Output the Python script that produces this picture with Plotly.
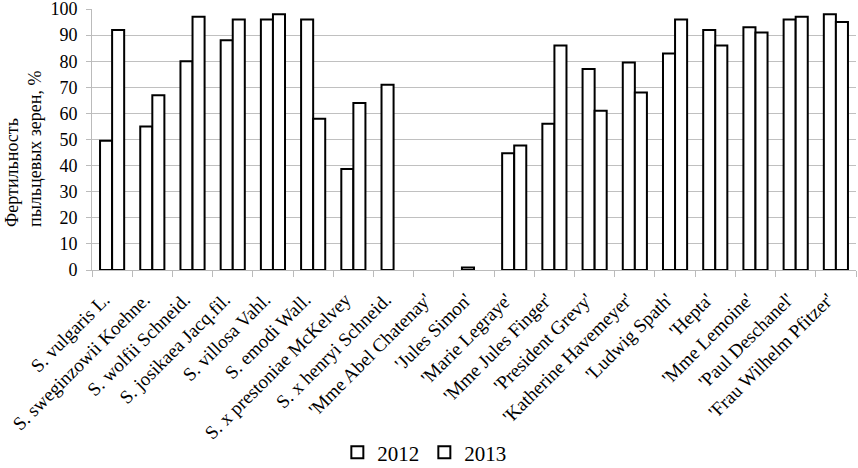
import plotly.graph_objects as go

categories = [
    "S. vulgaris L.", "S. sweginzowii Koehne.", "S. wolfii Schneid.", "S. josikaea Jacq.fil.",
    "S. villosa Vahl.", "S. emodi Wall.", "S. x prestoniae McKelvey", "S. x henryi Schneid.",
    "'Mme Abel Chatenay'", "'Jules Simon'", "'Marie Legraye'", "'Mme Jules Finger'",
    "'President Grevy'", "'Katherine Havemeyer'", "'Ludwig Spath'", "'Hepta'",
    "'Mme Lemoine'", "'Paul Deschanel'", "'Frau Wilhelm Pfitzer'",
]
values_2012 = [49.5, 55, 80, 88, 96, 96, 38.7, 71, None, 1, 44.7, 56, 77, 79.5, 83, 92, 93, 96, 98]
values_2013 = [92, 67, 97, 96, 98, 58, 64, None, None, None, 47.7, 86, 61, 68, 96, 86, 91, 97, 95]
series_names = ["2012", "2013"]
y_ticks = list(range(0, 101, 10))
y_title = "Фертильность<br>пыльцевых зерен, %"

FONT = "Liberation Serif, Times New Roman, serif"

fig = go.Figure()
for name, vals in zip(series_names, [values_2012, values_2013]):
    fig.add_trace(go.Bar(
        x=categories, y=vals, name=name,
        marker=dict(color="white", line=dict(color="black", width=2)),
    ))

fig.update_layout(
    width=858, height=468,
    margin=dict(l=92, r=2, t=9, b=198, autoexpand=False),
    paper_bgcolor="white", plot_bgcolor="white",
    barmode="group", bargap=0.4, bargroupgap=0,
    font=dict(family=FONT, size=18, color="black"),
    legend=dict(orientation="h", x=0.435, xanchor="center", y=-0.7, yanchor="middle",
                font=dict(family=FONT, size=21), itemwidth=30, tracegroupgap=0),
    showlegend=True,
)
fig.add_annotation(
    text=y_title, xref="paper", yref="paper", x=-0.09, y=0.465,
    xanchor="center", yanchor="middle", textangle=-90, align="left",
    showarrow=False, font=dict(family=FONT, size=18, color="black"),
)
fig.update_xaxes(
    type="category", tickangle=-45, tickfont=dict(family=FONT, size=19),
    tickson="boundaries", ticks="outside", ticklen=6, tickcolor="#bbbbbb",
    ticklabelstandoff=10, ticklabelshift=-8,
    showline=True, linecolor="#bbbbbb", linewidth=1, showgrid=False, automargin=False,
)
fig.update_yaxes(
    range=[0, 100.01], tickvals=y_ticks, tickfont=dict(family=FONT, size=18),
    ticklabeloverflow="allow", ticklabelstandoff=5,
    showgrid=True, gridcolor="#c0c0c0", gridwidth=1, automargin=False,
    showline=True, linecolor="#bbbbbb", ticks="outside", ticklen=5, tickcolor="#bbbbbb",
    zeroline=False,
)

fig.write_html("out.html", config={"displayModeBar": False},
               post_script="document.body.style.margin='0';document.body.style.overflow='hidden';")
